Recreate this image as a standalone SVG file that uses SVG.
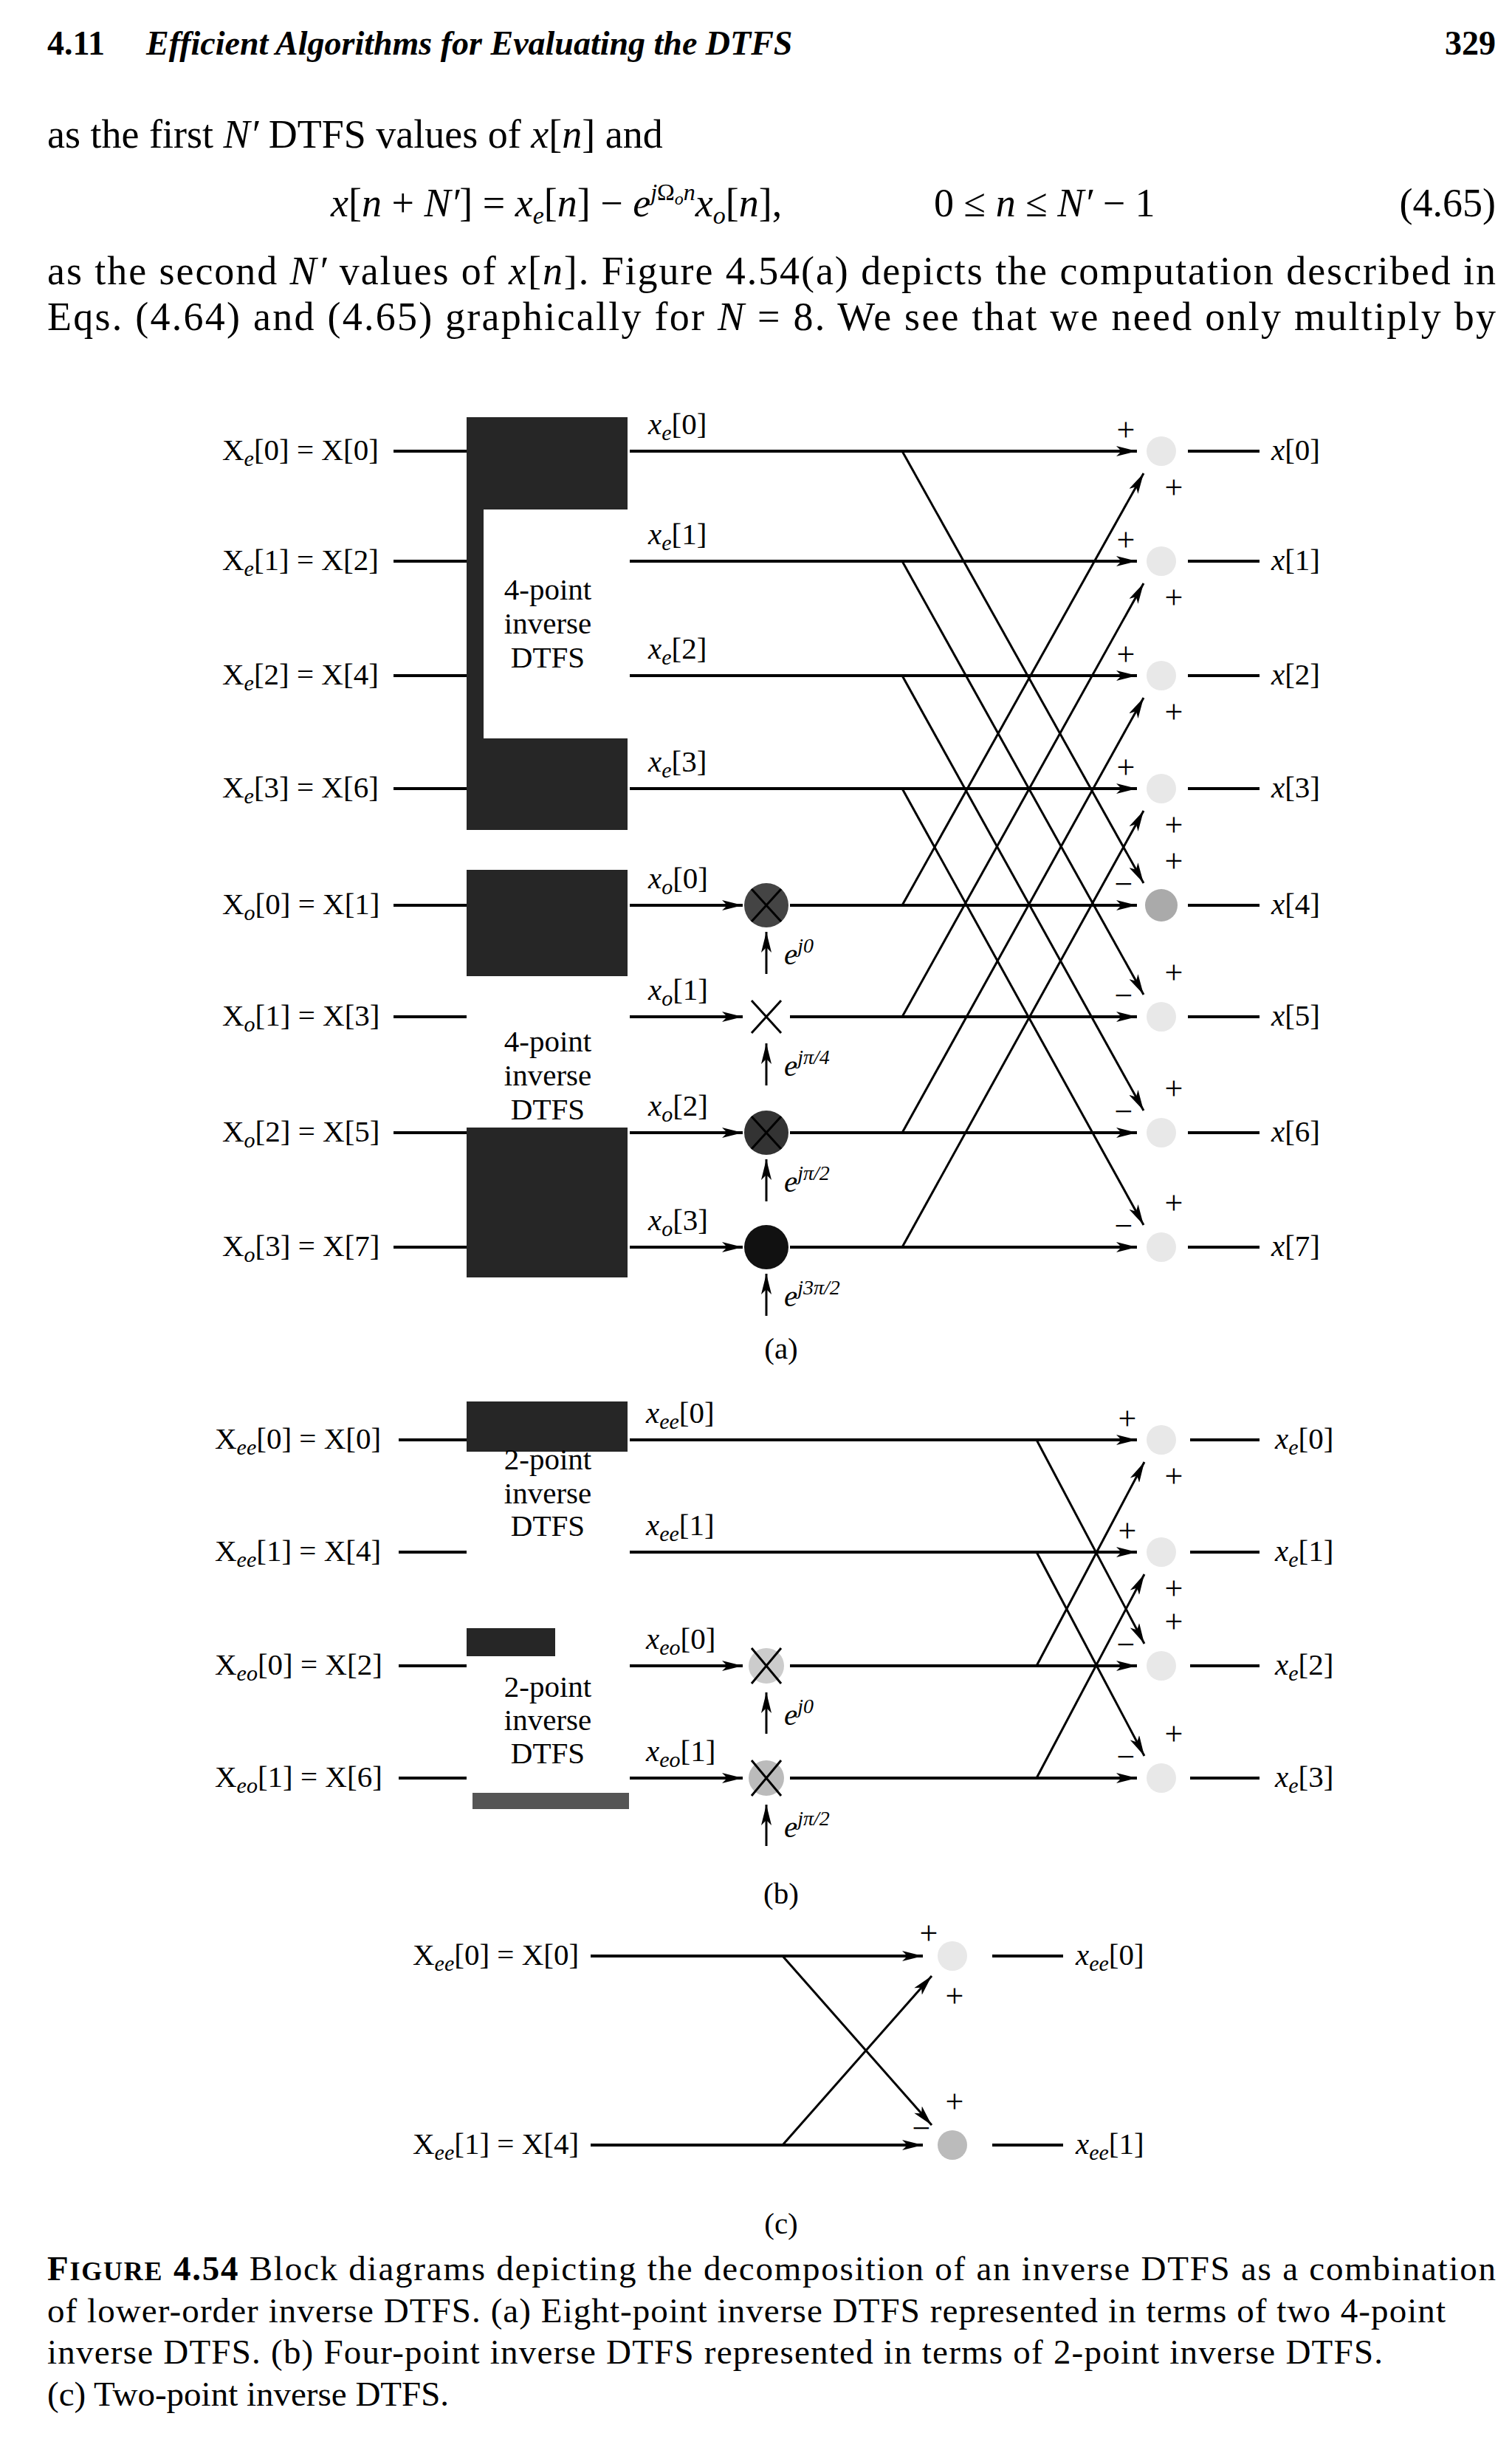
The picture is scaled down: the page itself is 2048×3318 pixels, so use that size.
<svg xmlns="http://www.w3.org/2000/svg" width="2048" height="3318" viewBox="0 0 2048 3318">
<style>
text{font-family:"Liberation Serif","Times New Roman",serif;fill:#000}
.lb{font-size:41px}
.it{font-style:italic}
.sg{font-size:44px}
.body{font-size:54px}
.cap{font-size:47px}
.h{stroke:#000;stroke-width:4;fill:none}
.d{stroke:#000;stroke-width:3;fill:none}
.dark{fill:#262626}
.sum{fill:#e8e8e8}
</style>
<defs>
<marker id="ah" viewBox="0 0 20 10" refX="20" refY="5" markerWidth="28" markerHeight="14" markerUnits="userSpaceOnUse" orient="auto"><path d="M0,0 L20,5 L0,10 L5,5 z" fill="#000"/></marker>
</defs>
<rect width="2048" height="3318" fill="#fff"/>

<g id="header">
<text x="64" y="74" style="font-size:46px;font-weight:bold">4.11</text>
<text x="198" y="74" style="font-size:46px;font-weight:bold;font-style:italic">Efficient Algorithms for Evaluating the DTFS</text>
<text x="2026" y="74" text-anchor="end" style="font-size:46px;font-weight:bold">329</text>
<text x="64" y="200" class="body">as the first <tspan class="it">N′</tspan> DTFS values of <tspan class="it">x</tspan>[<tspan class="it">n</tspan>] and</text>
<text x="448" y="293" class="body"><tspan class="it">x</tspan>[<tspan class="it">n</tspan> + <tspan class="it">N′</tspan>] = <tspan class="it">x</tspan><tspan font-size="34" dy="10" class="it">e</tspan><tspan dy="-10">[</tspan><tspan class="it">n</tspan>] − <tspan class="it">e</tspan><tspan font-size="32" dy="-22" class="it">j</tspan><tspan font-size="32">Ω</tspan><tspan font-size="24" dy="6" class="it">o</tspan><tspan font-size="32" dy="-6" class="it">n</tspan><tspan class="it" dy="22">x</tspan><tspan font-size="34" dy="10" class="it">o</tspan><tspan dy="-10">[</tspan><tspan class="it">n</tspan>],</text>
<text x="1265" y="293" class="body">0 ≤ <tspan class="it">n</tspan> ≤ <tspan class="it">N′</tspan> − 1</text>
<text x="2026" y="293" text-anchor="end" class="body">(4.65)</text>
<text x="64" y="385" class="body" textLength="1962" lengthAdjust="spacing">as the second <tspan class="it">N′</tspan> values of <tspan class="it">x</tspan>[<tspan class="it">n</tspan>]. Figure 4.54(a) depicts the computation described in</text>
<text x="64" y="447" class="body" textLength="1962" lengthAdjust="spacing">Eqs. (4.64) and (4.65) graphically for <tspan class="it">N</tspan> = 8. We see that we need only multiply by</text>
</g>

<g id="box_a_even">
<rect x="632" y="565" width="218" height="559" class="dark"/>
<rect x="655" y="690" width="195" height="310" fill="#fff"/>
<text x="742" y="812" text-anchor="middle" class="lb">4-point</text>
<text x="742" y="858" text-anchor="middle" class="lb">inverse</text>
<text x="742" y="904" text-anchor="middle" class="lb">DTFS</text>
</g>
<g id="box_a_odd">
<rect x="632" y="1178" width="218" height="552" class="dark"/>
<rect x="632" y="1322" width="218" height="205" fill="#fff"/>
<text x="742" y="1424" text-anchor="middle" class="lb">4-point</text>
<text x="742" y="1470" text-anchor="middle" class="lb">inverse</text>
<text x="742" y="1516" text-anchor="middle" class="lb">DTFS</text>
</g>

<g id="labels_a" class="lb">
<text x="301" y="623">X<tspan font-size="30" dy="8" class="it">e</tspan><tspan dy="-8">[0] = X[0]</tspan></text>
<text x="301" y="772">X<tspan font-size="30" dy="8" class="it">e</tspan><tspan dy="-8">[1] = X[2]</tspan></text>
<text x="301" y="927">X<tspan font-size="30" dy="8" class="it">e</tspan><tspan dy="-8">[2] = X[4]</tspan></text>
<text x="301" y="1080">X<tspan font-size="30" dy="8" class="it">e</tspan><tspan dy="-8">[3] = X[6]</tspan></text>
<text x="301" y="1238">X<tspan font-size="30" dy="8" class="it">o</tspan><tspan dy="-8">[0] = X[1]</tspan></text>
<text x="301" y="1389">X<tspan font-size="30" dy="8" class="it">o</tspan><tspan dy="-8">[1] = X[3]</tspan></text>
<text x="301" y="1546">X<tspan font-size="30" dy="8" class="it">o</tspan><tspan dy="-8">[2] = X[5]</tspan></text>
<text x="301" y="1701">X<tspan font-size="30" dy="8" class="it">o</tspan><tspan dy="-8">[3] = X[7]</tspan></text>

<text x="878" y="588"><tspan class="it">x</tspan><tspan font-size="30" dy="8" class="it">e</tspan><tspan dy="-8">[0]</tspan></text>
<text x="878" y="737"><tspan class="it">x</tspan><tspan font-size="30" dy="8" class="it">e</tspan><tspan dy="-8">[1]</tspan></text>
<text x="878" y="892"><tspan class="it">x</tspan><tspan font-size="30" dy="8" class="it">e</tspan><tspan dy="-8">[2]</tspan></text>
<text x="878" y="1045"><tspan class="it">x</tspan><tspan font-size="30" dy="8" class="it">e</tspan><tspan dy="-8">[3]</tspan></text>
<text x="878" y="1203"><tspan class="it">x</tspan><tspan font-size="30" dy="8" class="it">o</tspan><tspan dy="-8">[0]</tspan></text>
<text x="878" y="1354"><tspan class="it">x</tspan><tspan font-size="30" dy="8" class="it">o</tspan><tspan dy="-8">[1]</tspan></text>
<text x="878" y="1511"><tspan class="it">x</tspan><tspan font-size="30" dy="8" class="it">o</tspan><tspan dy="-8">[2]</tspan></text>
<text x="878" y="1666"><tspan class="it">x</tspan><tspan font-size="30" dy="8" class="it">o</tspan><tspan dy="-8">[3]</tspan></text>

<text x="1722" y="623"><tspan class="it">x</tspan>[0]</text>
<text x="1722" y="772"><tspan class="it">x</tspan>[1]</text>
<text x="1722" y="927"><tspan class="it">x</tspan>[2]</text>
<text x="1722" y="1080"><tspan class="it">x</tspan>[3]</text>
<text x="1722" y="1238"><tspan class="it">x</tspan>[4]</text>
<text x="1722" y="1389"><tspan class="it">x</tspan>[5]</text>
<text x="1722" y="1546"><tspan class="it">x</tspan>[6]</text>
<text x="1722" y="1701"><tspan class="it">x</tspan>[7]</text>

<text x="1062" y="1306" class="it">e<tspan font-size="28" dy="-16">j0</tspan></text>
<text x="1062" y="1457" class="it">e<tspan font-size="28" dy="-16">jπ/4</tspan></text>
<text x="1062" y="1614" class="it">e<tspan font-size="28" dy="-16">jπ/2</tspan></text>
<text x="1062" y="1769" class="it">e<tspan font-size="28" dy="-16">j3π/2</tspan></text>
<text x="1058" y="1840" text-anchor="middle">(a)</text>
</g>

<g id="mult_a">
<circle cx="1038" cy="1226" r="30" fill="#444"/>
<path d="M1018,1204 L1058,1248 M1058,1204 L1018,1248" class="d"/>
<path d="M1018,1355 L1058,1399 M1058,1355 L1018,1399" class="d"/>
<circle cx="1038" cy="1534" r="30" fill="#333"/>
<path d="M1018,1512 L1058,1556 M1058,1512 L1018,1556" class="d"/>
<circle cx="1038" cy="1689" r="30" fill="#111"/>
</g>

<g id="sums_a">
<circle cx="1573" cy="611" r="20" class="sum"/><circle cx="1573" cy="760" r="20" class="sum"/>
<circle cx="1573" cy="915" r="20" class="sum"/><circle cx="1573" cy="1068" r="20" class="sum"/>
<circle cx="1573" cy="1226" r="22" fill="#aaa"/><circle cx="1573" cy="1377" r="20" class="sum"/>
<circle cx="1573" cy="1534" r="20" class="sum"/><circle cx="1573" cy="1689" r="20" class="sum"/>
</g>

<g id="signs_a" class="sg">
<text x="1525" y="597" text-anchor="middle">+</text><text x="1590" y="675" text-anchor="middle">+</text>
<text x="1525" y="746" text-anchor="middle">+</text><text x="1590" y="824" text-anchor="middle">+</text>
<text x="1525" y="901" text-anchor="middle">+</text><text x="1590" y="979" text-anchor="middle">+</text>
<text x="1525" y="1054" text-anchor="middle">+</text><text x="1590" y="1132" text-anchor="middle">+</text>
<text x="1590" y="1181" text-anchor="middle">+</text><text x="1522" y="1212" text-anchor="middle">−</text>
<text x="1590" y="1332" text-anchor="middle">+</text><text x="1522" y="1363" text-anchor="middle">−</text>
<text x="1590" y="1489" text-anchor="middle">+</text><text x="1522" y="1520" text-anchor="middle">−</text>
<text x="1590" y="1644" text-anchor="middle">+</text><text x="1522" y="1675" text-anchor="middle">−</text>
</g>

<g id="box_b_ee">
<rect x="632" y="1898" width="218" height="68" class="dark"/>
<text x="742" y="1990" text-anchor="middle" class="lb">2-point</text>
<text x="742" y="2036" text-anchor="middle" class="lb">inverse</text>
<text x="742" y="2080" text-anchor="middle" class="lb">DTFS</text>
</g>
<g id="box_b_eo">
<rect x="632" y="2205" width="120" height="38" class="dark"/>
<rect x="640" y="2428" width="212" height="22" fill="#555"/>
<text x="742" y="2298" text-anchor="middle" class="lb">2-point</text>
<text x="742" y="2343" text-anchor="middle" class="lb">inverse</text>
<text x="742" y="2388" text-anchor="middle" class="lb">DTFS</text>
</g>

<g id="labels_b" class="lb">
<text x="291" y="1962">X<tspan font-size="30" dy="8" class="it">ee</tspan><tspan dy="-8">[0] = X[0]</tspan></text>
<text x="291" y="2114">X<tspan font-size="30" dy="8" class="it">ee</tspan><tspan dy="-8">[1] = X[4]</tspan></text>
<text x="291" y="2268">X<tspan font-size="30" dy="8" class="it">eo</tspan><tspan dy="-8">[0] = X[2]</tspan></text>
<text x="291" y="2420">X<tspan font-size="30" dy="8" class="it">eo</tspan><tspan dy="-8">[1] = X[6]</tspan></text>
<text x="875" y="1927"><tspan class="it">x</tspan><tspan font-size="30" dy="8" class="it">ee</tspan><tspan dy="-8">[0]</tspan></text>
<text x="875" y="2079"><tspan class="it">x</tspan><tspan font-size="30" dy="8" class="it">ee</tspan><tspan dy="-8">[1]</tspan></text>
<text x="875" y="2233"><tspan class="it">x</tspan><tspan font-size="30" dy="8" class="it">eo</tspan><tspan dy="-8">[0]</tspan></text>
<text x="875" y="2385"><tspan class="it">x</tspan><tspan font-size="30" dy="8" class="it">eo</tspan><tspan dy="-8">[1]</tspan></text>
<text x="1727" y="1962"><tspan class="it">x</tspan><tspan font-size="30" dy="8" class="it">e</tspan><tspan dy="-8">[0]</tspan></text>
<text x="1727" y="2114"><tspan class="it">x</tspan><tspan font-size="30" dy="8" class="it">e</tspan><tspan dy="-8">[1]</tspan></text>
<text x="1727" y="2268"><tspan class="it">x</tspan><tspan font-size="30" dy="8" class="it">e</tspan><tspan dy="-8">[2]</tspan></text>
<text x="1727" y="2420"><tspan class="it">x</tspan><tspan font-size="30" dy="8" class="it">e</tspan><tspan dy="-8">[3]</tspan></text>
<text x="1062" y="2336" class="it">e<tspan font-size="28" dy="-16">j0</tspan></text>
<text x="1062" y="2488" class="it">e<tspan font-size="28" dy="-16">jπ/2</tspan></text>
<text x="1058" y="2578" text-anchor="middle">(b)</text>
</g>

<g id="mult_b">
<circle cx="1038" cy="2256" r="24" fill="#ccc"/>
<path d="M1018,2232 L1058,2280 M1058,2232 L1018,2280" class="d"/>
<circle cx="1038" cy="2408" r="24" fill="#bbb"/>
<path d="M1018,2384 L1058,2432 M1058,2384 L1018,2432" class="d"/>
</g>

<g id="sums_b">
<circle cx="1573" cy="1950" r="20" class="sum"/><circle cx="1573" cy="2102" r="20" class="sum"/>
<circle cx="1573" cy="2256" r="20" class="sum"/><circle cx="1573" cy="2408" r="20" class="sum"/>
</g>
<g id="signs_b" class="sg">
<text x="1527" y="1936" text-anchor="middle">+</text><text x="1590" y="2014" text-anchor="middle">+</text>
<text x="1527" y="2088" text-anchor="middle">+</text><text x="1590" y="2166" text-anchor="middle">+</text>
<text x="1590" y="2211" text-anchor="middle">+</text><text x="1525" y="2242" text-anchor="middle">−</text>
<text x="1590" y="2363" text-anchor="middle">+</text><text x="1525" y="2394" text-anchor="middle">−</text>
</g>

<g id="labels_c" class="lb">
<text x="559" y="2661">X<tspan font-size="30" dy="8" class="it">ee</tspan><tspan dy="-8">[0] = X[0]</tspan></text>
<text x="559" y="2917">X<tspan font-size="30" dy="8" class="it">ee</tspan><tspan dy="-8">[1] = X[4]</tspan></text>
<text x="1457" y="2661"><tspan class="it">x</tspan><tspan font-size="30" dy="8" class="it">ee</tspan><tspan dy="-8">[0]</tspan></text>
<text x="1457" y="2917"><tspan class="it">x</tspan><tspan font-size="30" dy="8" class="it">ee</tspan><tspan dy="-8">[1]</tspan></text>
<text x="1058" y="3025" text-anchor="middle">(c)</text>
</g>
<g id="sums_c">
<circle cx="1290" cy="2649" r="20" class="sum"/><circle cx="1290" cy="2905" r="20" fill="#bbb"/>
</g>
<g id="signs_c" class="sg">
<text x="1258" y="2633" text-anchor="middle">+</text><text x="1293" y="2718" text-anchor="middle">+</text>
<text x="1293" y="2861" text-anchor="middle">+</text><text x="1248" y="2897" text-anchor="middle">−</text>
</g>

<g id="connectors">
<path class="h" d="M533,611 H632 M533,760 H632 M533,915 H632 M533,1068 H632 M533,1226 H632 M533,1377 H632 M533,1534 H632 M533,1689 H632"/>
<line class="h" x1="853" y1="611" x2="1540" y2="611" marker-end="url(#ah)"/>
<line class="h" x1="853" y1="760" x2="1540" y2="760" marker-end="url(#ah)"/>
<line class="h" x1="853" y1="915" x2="1540" y2="915" marker-end="url(#ah)"/>
<line class="h" x1="853" y1="1068" x2="1540" y2="1068" marker-end="url(#ah)"/>
<line class="h" x1="853" y1="1226" x2="1006" y2="1226" marker-end="url(#ah)"/>
<line class="h" x1="853" y1="1377" x2="1006" y2="1377" marker-end="url(#ah)"/>
<line class="h" x1="853" y1="1534" x2="1006" y2="1534" marker-end="url(#ah)"/>
<line class="h" x1="853" y1="1689" x2="1006" y2="1689" marker-end="url(#ah)"/>
<line class="h" x1="1070" y1="1226" x2="1540" y2="1226" marker-end="url(#ah)"/>
<line class="h" x1="1070" y1="1377" x2="1540" y2="1377" marker-end="url(#ah)"/>
<line class="h" x1="1070" y1="1534" x2="1540" y2="1534" marker-end="url(#ah)"/>
<line class="h" x1="1070" y1="1689" x2="1540" y2="1689" marker-end="url(#ah)"/>
<path class="h" d="M1609,611 H1706 M1609,760 H1706 M1609,915 H1706 M1609,1068 H1706 M1609,1226 H1706 M1609,1377 H1706 M1609,1534 H1706 M1609,1689 H1706"/>
<line class="d" x1="1222" y1="611" x2="1549" y2="1196" marker-end="url(#ah)"/>
<line class="d" x1="1222" y1="760" x2="1549" y2="1347" marker-end="url(#ah)"/>
<line class="d" x1="1222" y1="915" x2="1549" y2="1504" marker-end="url(#ah)"/>
<line class="d" x1="1222" y1="1068" x2="1549" y2="1659" marker-end="url(#ah)"/>
<line class="d" x1="1222" y1="1226" x2="1549" y2="641" marker-end="url(#ah)"/>
<line class="d" x1="1222" y1="1377" x2="1549" y2="790" marker-end="url(#ah)"/>
<line class="d" x1="1222" y1="1534" x2="1549" y2="945" marker-end="url(#ah)"/>
<line class="d" x1="1222" y1="1689" x2="1549" y2="1098" marker-end="url(#ah)"/>
<line class="d" x1="1038" y1="1319" x2="1038" y2="1262" marker-end="url(#ah)"/>
<line class="d" x1="1038" y1="1470" x2="1038" y2="1413" marker-end="url(#ah)"/>
<line class="d" x1="1038" y1="1627" x2="1038" y2="1570" marker-end="url(#ah)"/>
<line class="d" x1="1038" y1="1782" x2="1038" y2="1725" marker-end="url(#ah)"/>
<path class="h" d="M540,1950 H632 M540,2102 H632 M540,2256 H632 M540,2408 H632"/>
<line class="h" x1="853" y1="1950" x2="1540" y2="1950" marker-end="url(#ah)"/>
<line class="h" x1="853" y1="2102" x2="1540" y2="2102" marker-end="url(#ah)"/>
<line class="h" x1="853" y1="2256" x2="1006" y2="2256" marker-end="url(#ah)"/>
<line class="h" x1="853" y1="2408" x2="1006" y2="2408" marker-end="url(#ah)"/>
<line class="h" x1="1070" y1="2256" x2="1540" y2="2256" marker-end="url(#ah)"/>
<line class="h" x1="1070" y1="2408" x2="1540" y2="2408" marker-end="url(#ah)"/>
<path class="h" d="M1612,1950 H1706 M1612,2102 H1706 M1612,2256 H1706 M1612,2408 H1706"/>
<line class="d" x1="1404" y1="1950" x2="1550" y2="2226" marker-end="url(#ah)"/>
<line class="d" x1="1404" y1="2102" x2="1550" y2="2378" marker-end="url(#ah)"/>
<line class="d" x1="1404" y1="2256" x2="1550" y2="1980" marker-end="url(#ah)"/>
<line class="d" x1="1404" y1="2408" x2="1550" y2="2132" marker-end="url(#ah)"/>
<line class="d" x1="1038" y1="2348" x2="1038" y2="2292" marker-end="url(#ah)"/>
<line class="d" x1="1038" y1="2500" x2="1038" y2="2444" marker-end="url(#ah)"/>
<line class="h" x1="800" y1="2649" x2="1250" y2="2649" marker-end="url(#ah)"/>
<line class="h" x1="800" y1="2905" x2="1250" y2="2905" marker-end="url(#ah)"/>
<path class="h" d="M1344,2649 H1440 M1344,2905 H1440"/>
<line class="d" x1="1060" y1="2649" x2="1262" y2="2878" marker-end="url(#ah)"/>
<line class="d" x1="1060" y1="2905" x2="1262" y2="2676" marker-end="url(#ah)"/>
</g>

<g id="caption" class="cap">
<text x="64" y="3088" textLength="1962" lengthAdjust="spacing"><tspan font-weight="bold">F<tspan font-size="36">IGURE</tspan> 4.54</tspan>  Block diagrams depicting the decomposition of an inverse DTFS as a combination</text>
<text x="64" y="3145" textLength="1894" lengthAdjust="spacing">of lower-order inverse DTFS. (a) Eight-point inverse DTFS represented in terms of two 4-point</text>
<text x="64" y="3201" textLength="1809" lengthAdjust="spacing">inverse DTFS. (b) Four-point inverse DTFS represented in terms of 2-point inverse DTFS.</text>
<text x="64" y="3258">(c) Two-point inverse DTFS.</text>
</g>
</svg>
